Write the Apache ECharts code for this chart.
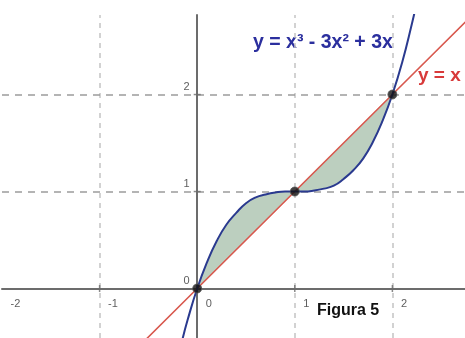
<!DOCTYPE html>
<html>
<head>
<meta charset="utf-8">
<script src="https://cdn.jsdelivr.net/npm/echarts@6/dist/echarts.min.js"></script>
<style>
  html, body { margin: 0; padding: 0; background: #fff; }
  #main { width: 465px; height: 338px; }
</style>
</head>
<body>
<div id="main"></div>
<script>
// curve y = x^3 - 3x^2 + 3x
var cubicX = [-0.15, -0.1, 0, 0.1, 0.2, 0.3, 0.4, 0.5, 0.6, 0.7, 0.8, 0.9, 1.0, 1.1, 1.2, 1.3, 1.4, 1.5, 1.6, 1.7, 1.8, 1.9, 2.0, 2.1, 2.2, 2.25];
var cubicY = [-0.52, -0.33, 0, 0.27, 0.49, 0.66, 0.78, 0.88, 0.94, 0.97, 0.99, 1.0, 1.0, 1.0, 1.01, 1.03, 1.06, 1.13, 1.22, 1.34, 1.51, 1.73, 2.0, 2.33, 2.73, 2.95];
// straight line y = x
var lineX = [-0.6, 0, 1, 2, 2.8];
var lineY = [-0.6, 0, 1, 2, 2.8];
// intersection points
var dotX = [0, 1, 2];
var dotY = [0, 1, 2];
// axes
var xTicks = [-1, 1, 2];
var xLabels = [-2, -1, 0, 1, 2];
var yTicks = [1, 2];
var yLabels = [0, 1, 2];
var xGrid = [-1, 1, 2];
var yGrid = [1, 2];

function pairs(xs, ys) {
	var out = [];
	for (var i = 0; i < xs.length; i++) out.push([xs[i], ys[i]]);
	return out;
}
function onXAxis(xs) {
	return xs.map(function (v) { return [v, 0]; });
}
function onYAxis(ys) {
	return ys.map(function (v) { return [0, v]; });
}

var chart = echarts.init(document.getElementById('main'));

var gridLines = [];
for (var i = 0; i < xGrid.length; i++) {
	gridLines.push({ xAxis: xGrid[i], lineStyle: { color: '#c4c4c4', type: [5, 5], width: 1.5 } });
}
for (var i = 0; i < yGrid.length; i++) {
	gridLines.push({ yAxis: yGrid[i], lineStyle: { color: '#9c9c9c', type: [7, 6], width: 1.5 } });
}

var axisColor = '#6c6c6c';
var labelFont = { color: '#333', fontSize: 11, fontFamily: 'Liberation Sans, Arial, sans-serif' };
var titleFont = 'Liberation Sans, Arial, sans-serif';

var option = {
	animation: false,
	grid: { left: 2, right: 0, top: 15, bottom: 0, containLabel: false, outerBoundsMode: 'none' },
	xAxis: {
		type: 'value',
		min: -2,
		max: 2.744,
		axisLine: { onZero: true, lineStyle: { color: axisColor, width: 2 } },
		axisTick: { show: false },
		axisLabel: { show: false },
		splitLine: { show: false }
	},
	yAxis: {
		type: 'value',
		min: -0.51,
		max: 2.82,
		axisLine: { onZero: true, lineStyle: { color: axisColor, width: 2 } },
		axisTick: { show: false },
		axisLabel: { show: false },
		splitLine: { show: false }
	},
	graphic: [
		{ type: 'text', left: 253, top: 33, style: { text: 'y = x³ - 3x² + 3x', fill: '#2b2f9e', font: 'bold 19.5px ' + titleFont } },
		{ type: 'text', left: 418, top: 66, style: { text: 'y = x', fill: '#d83a3a', font: 'bold 19px ' + titleFont } },
		{ type: 'text', left: 317, top: 303, style: { text: 'Figura 5', fill: '#111', font: 'bold 16px ' + titleFont } }
	],
	series: [
		{
			// shaded area between the two graphs for 0 <= x <= 2
			type: 'custom',
			silent: true,
			z: 1,
			data: [[0, 0]],
			renderItem: function (params, api) {
				var pts = [];
				for (var i = 0; i < cubicX.length; i++) {
					if (cubicX[i] >= 0 && cubicX[i] <= 2) pts.push(api.coord([cubicX[i], cubicY[i]]));
				}
				for (var j = lineX.length - 1; j >= 0; j--) {
					if (lineX[j] >= 0 && lineX[j] <= 2) pts.push(api.coord([lineX[j], lineY[j]]));
				}
				return { type: 'polygon', shape: { points: pts }, style: { fill: '#bccfbf' } };
			}
		},
		{
			type: 'line',
			z: 3,
			data: pairs(lineX, lineY),
			showSymbol: false,
			clip: true,
			lineStyle: { color: '#d8584e', width: 1.6 },
			markLine: {
				silent: true,
				symbol: 'none',
				label: { show: false },
				z: 0,
				data: gridLines
			}
		},
		{
			type: 'line',
			z: 4,
			data: pairs(cubicX, cubicY),
			smooth: true,
			showSymbol: false,
			clip: true,
			lineStyle: { color: '#2a3a8f', width: 2 }
		},
		{
			type: 'scatter',
			z: 5,
			data: pairs(dotX, dotY),
			symbolSize: 9,
			itemStyle: { color: '#111', borderColor: '#555', borderWidth: 1 }
		},
		// tick marks on the axes
		{
			type: 'scatter',
			silent: true,
			z: 2,
			symbol: 'rect',
			symbolSize: [1.5, 7],
			data: onXAxis(xTicks),
			itemStyle: { color: axisColor }
		},
		{
			type: 'scatter',
			silent: true,
			z: 2,
			symbol: 'rect',
			symbolSize: [7, 1.5],
			data: onYAxis(yTicks),
			itemStyle: { color: axisColor }
		},
		// tick labels, placed next to the axes through the scales
		{
			type: 'scatter',
			silent: true,
			z: 6,
			symbolSize: 1,
			data: onXAxis(xLabels),
			itemStyle: { color: 'transparent' },
			label: Object.assign({
				show: true,
				position: [9, 10],
				align: 'left',
				verticalAlign: 'top',
				formatter: function (p) { return String(p.value[0]); }
			}, labelFont)
		},
		{
			type: 'scatter',
			silent: true,
			z: 6,
			symbolSize: 1,
			data: onYAxis(yLabels),
			itemStyle: { color: 'transparent' },
			label: Object.assign({
				show: true,
				position: [-7, -2],
				align: 'right',
				verticalAlign: 'bottom',
				formatter: function (p) { return String(p.value[1]); }
			}, labelFont)
		}
	]
};
chart.setOption(option);
</script>
</body>
</html>
